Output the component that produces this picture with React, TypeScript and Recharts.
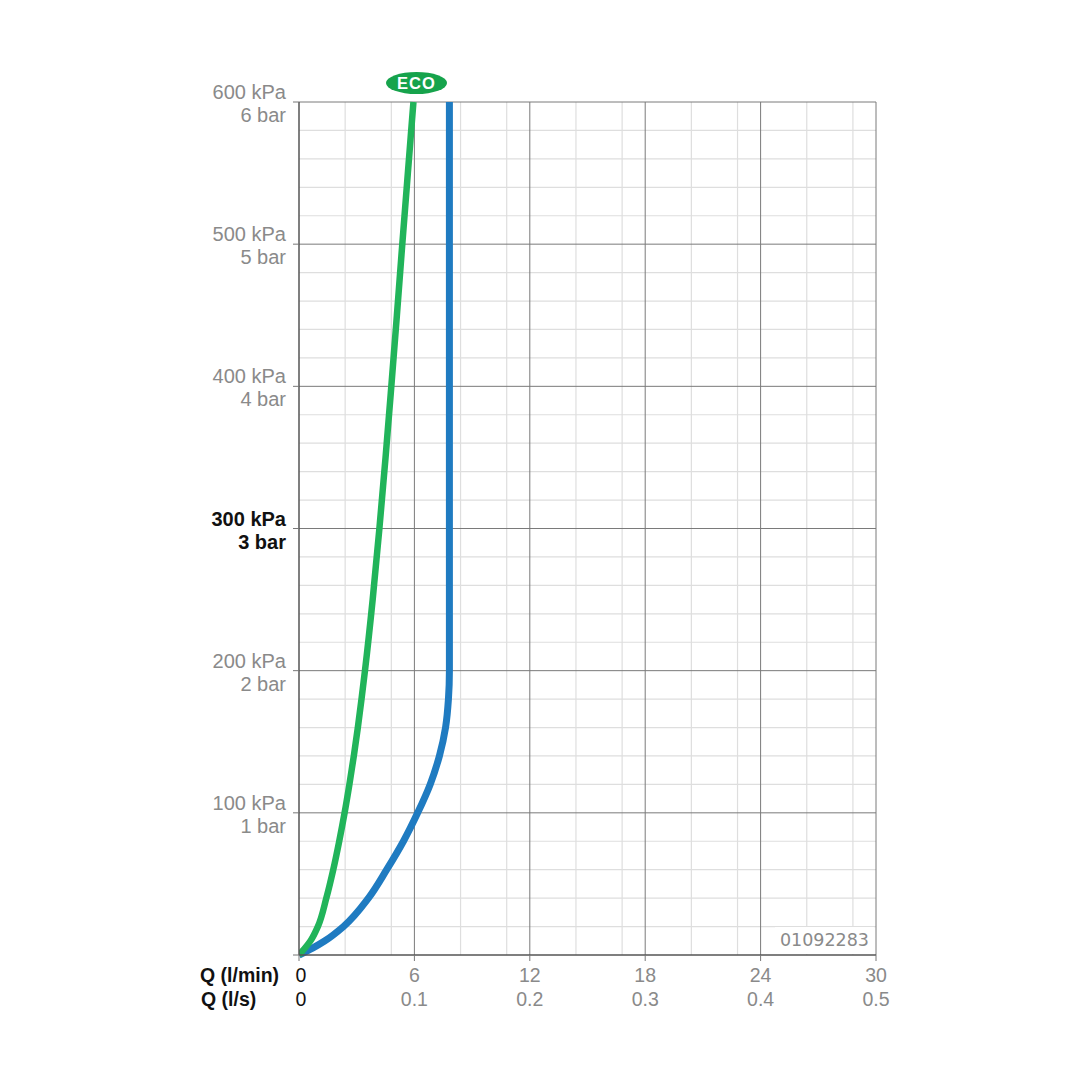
import { LineChart, Line, XAxis, YAxis, CartesianGrid } from 'recharts';

// pressure (kPa) vs flow (l/min)
const ecoPressure = [0, 10, 20, 40, 60, 80, 100, 120, 140, 160, 180, 200, 250, 300, 350, 400, 450, 500, 550, 600];
const ecoFlow = [0, 0.6, 0.98, 1.42, 1.78, 2.09, 2.37, 2.62, 2.85, 3.06, 3.25, 3.43, 3.83, 4.18, 4.5, 4.8, 5.09, 5.37, 5.66, 5.95];

const stdPressure = [0, 5, 10, 20, 40, 60, 80, 100, 120, 140, 160, 180, 200, 600];
const stdFlow = [0, 0.73, 1.35, 2.31, 3.61, 4.56, 5.43, 6.17, 6.82, 7.3, 7.62, 7.77, 7.82, 7.82];

const flowTicks = [0, 6, 12, 18, 24, 30];
const flowSecondLabels = ['0', '0.1', '0.2', '0.3', '0.4', '0.5'];
const pressureTicks = [100, 200, 300, 400, 500, 600];
const barLabels = ['1 bar', '2 bar', '3 bar', '4 bar', '5 bar', '6 bar'];

const minorFlow = [1.2, 2.4, 3.6, 4.8, 7.2, 8.4, 9.6, 10.8, 13.2, 14.4, 15.6, 16.8, 19.2, 20.4, 21.6, 22.8, 25.2, 26.4, 27.6, 28.8];
const minorPressure = [20, 40, 60, 80, 120, 140, 160, 180, 220, 240, 260, 280, 320, 340, 360, 380, 420, 440, 460, 480, 520, 540, 560, 580];

const ecoData = ecoPressure.map((p, i) => ({ q: ecoFlow[i], p }));
const stdData = stdPressure.map((p, i) => ({ q: stdFlow[i], p }));

const FONT = '"Liberation Sans", Arial, Helvetica, sans-serif';
const GRAY = '#8a8a8a';

function FlowTick(props: any) {
  const { x, y, payload } = props;
  const first = payload.value === 0;
  const fill = first ? '#111' : GRAY;
  return (
    <g fontFamily={FONT} fontSize={19.5}>
      {first && (
        <>
          <text x={200} y={y + 19} fill="#111" fontWeight="bold" textAnchor="start">Q (l/min)</text>
          <text x={201} y={y + 43} fill="#111" fontWeight="bold" textAnchor="start">Q (l/s)</text>
        </>
      )}
      <text x={x + (first ? 2 : 0)} y={y + 19} fill={fill} textAnchor="middle">{payload.value}</text>
      <text x={x + (first ? 2 : 0)} y={y + 43} fill={fill} textAnchor="middle">{flowSecondLabels[flowTicks.indexOf(payload.value)] ?? ''}</text>
    </g>
  );
}

function PressureTick(props: any) {
  const { x, y, payload } = props;
  const i = pressureTicks.indexOf(payload.value);
  if (i < 0) return null;
  const bold = payload.value === 300;
  const fill = bold ? '#111' : GRAY;
  return (
    <g fontFamily={FONT} fontSize={20} fontWeight={bold ? 'bold' : 'normal'}>
      <text x={x - 5} y={y - 3} fill={fill} textAnchor="end">{payload.value} kPa</text>
      <text x={x - 5} y={y + 20} fill={fill} textAnchor="end">{barLabels[i]}</text>
    </g>
  );
}

export default function App() {
  return (
    <div style={{ position: 'absolute', left: 0, top: 0, width: 1080, height: 1080, background: '#fff' }}>
      <LineChart width={1080} height={1080} margin={{ top: 102, right: 204, bottom: 65, left: 199 }}>
        <CartesianGrid
          stroke="#dedede"
          strokeWidth={1.2}
          horizontalValues={minorPressure}
          verticalValues={minorFlow}
        />
        <CartesianGrid
          stroke="#7a7a7a"
          strokeWidth={1}
          horizontalValues={pressureTicks}
          verticalValues={flowTicks.slice(1)}
        />
        <XAxis
          type="number"
          dataKey="q"
          domain={[0, 30]}
          ticks={flowTicks}
          height={60}
          axisLine={{ stroke: '#555', strokeWidth: 1.5 }}
          tickLine={{ stroke: '#777' }}
          tick={<FlowTick />}
          allowDataOverflow
        />
        <YAxis
          type="number"
          dataKey="p"
          domain={[0, 600]}
          ticks={[0, ...pressureTicks]}
          width={100}
          axisLine={{ stroke: '#555', strokeWidth: 1.5 }}
          tickLine={{ stroke: '#777' }}
          tick={<PressureTick />}
        />
        <Line
          data={stdData}
          dataKey="p"
          type="monotoneY"
          stroke="#1f7bc1"
          strokeWidth={7}
          dot={false}
          isAnimationActive={false}
        />
        <Line
          data={ecoData}
          dataKey="p"
          type="monotoneY"
          stroke="#21b45a"
          strokeWidth={6.5}
          dot={false}
          isAnimationActive={false}
        />
      </LineChart>
      {/* ECO badge above the green curve */}
      <div
        style={{
          position: 'absolute',
          left: 386,
          top: 72,
          width: 61,
          height: 22,
          borderRadius: '50%',
          background: '#16a34c',
          color: '#fff',
          fontFamily: FONT,
          fontWeight: 'bold',
          fontSize: 16.5,
          lineHeight: '22px',
          textAlign: 'center',
          letterSpacing: 1,
        }}
      >
        ECO
      </div>
      <div
        style={{
          position: 'absolute',
          left: 775,
          top: 927,
          width: 99,
          height: 27,
          background: '#fff',
          color: GRAY,
          fontFamily: '"DejaVu Sans", sans-serif',
          fontSize: 17.5,
          lineHeight: '27px',
          textAlign: 'right',
          paddingRight: 5,
          boxSizing: 'border-box',
        }}
      >
        01092283
      </div>
    </div>
  );
}
